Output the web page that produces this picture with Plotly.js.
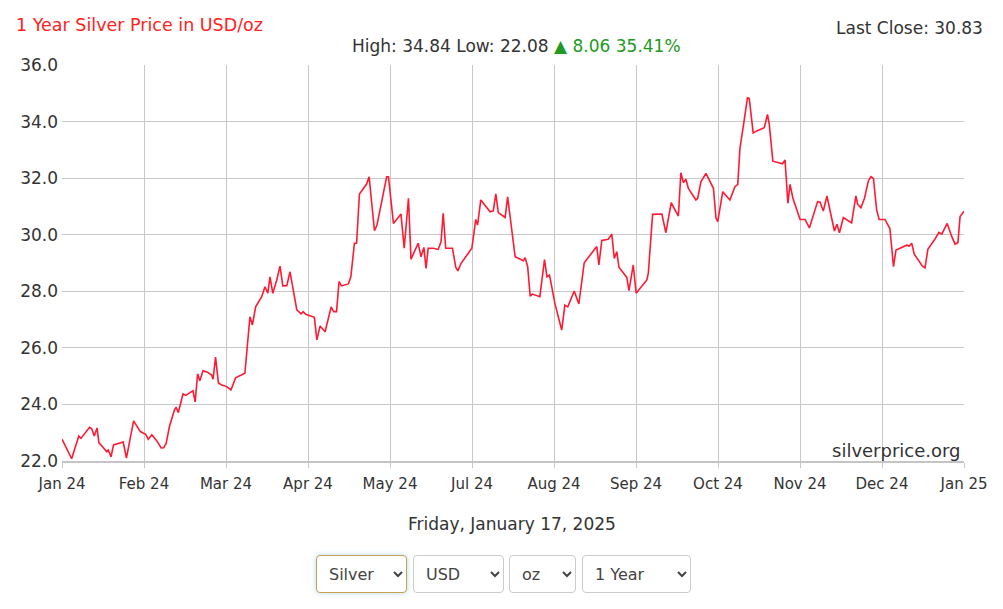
<!DOCTYPE html>
<html>
<head>
<meta charset="utf-8">
<script src="https://cdn.plot.ly/plotly-3.0.1.min.js"></script>
<style>
  html, body { margin: 0; padding: 0; background: #fff; }
  #wrap { position: relative; width: 1003px; height: 609px; }
  #chart { position: absolute; left: 0; top: 0; width: 1003px; height: 609px; }
  .sel {
    position: absolute; top: 555px; height: 38px; box-sizing: border-box;
    font-family: "DejaVu Sans", sans-serif; font-size: 16px; color: #444;
    background: #fff; border: 1px solid #ccc; border-radius: 4px; padding: 0 8px;
  }
  .sel.focus { border-color: #c9a24a; box-shadow: 0 0 5px rgba(102,175,233,0.5); }
</style>
</head>
<body>
<div id="wrap">
  <div id="chart"></div>
  <select class="sel focus" style="left:316px;width:91px;"><option>Silver</option></select>
  <select class="sel" style="left:413px;width:91px;"><option>USD</option></select>
  <select class="sel" style="left:509px;width:67px;"><option>oz</option></select>
  <select class="sel" style="left:582px;width:109px;"><option>1 Year</option></select>
</div>
<script>
// Trading-day index (0..252) and silver price (USD/oz)
const days = [0,2.7,3.6,4.7,5.3,6.4,7.7,8.3,9.0,9.8,10.3,11.5,12.5,12.9,13.7,14.4,16.2,17.1,18.0,19.0,
  20.0,21.9,22.7,23.4,24.1,25.1,26.5,27.7,28.4,29.1,30.0,31.4,31.9,32.5,33.8,34.6,36.2,36.6,37.2,37.9,
  38.5,39.4,40.5,41.8,42.2,42.9,43.7,44.6,46.0,47.2,48.5,51.1,52.5,53.2,54.1,55.8,56.7,57.5,58.1,58.9,
  60.0,60.9,61.7,62.8,63.7,65.6,66.8,67.4,68.1,70.5,71.2,72.1,73.5,75.2,75.9,76.7,77.4,78.1,80.0,80.7,
  81.7,82.3,83.1,85.1,85.8,87.3,88.0,89.3,90.7,91.2,92.6,94.7,95.6,96.8,97.5,99.5,100.3,101.1,101.7,102.3,
  103.7,105.1,105.9,106.5,107.2,109.1,110.0,110.6,111.5,114.5,115.6,116.1,117.0,119.6,120.5,121.2,121.9,123.8,124.5,126.6,
  128.9,129.4,130.1,130.8,131.4,133.5,134.8,135.5,136.2,137.7,138.7,139.6,140.5,141.3,143.1,144.4,145.9,147.8,149.4,150.0,
  150.8,152.6,153.6,154.3,155.0,155.6,157.8,158.4,159.6,160.4,162.0,163.4,163.8,165.0,167.6,168.7,170.2,172.2,172.9,173.6,
  174.3,175.0,177.1,177.6,178.5,179.9,182.0,182.7,183.2,184.6,186.6,188.0,188.8,189.4,190.4,191.5,192.0,193.1,194.1,196.2,
  197.1,197.6,198.6,199.7,201.3,202.0,202.8,203.4,204.2,206.2,207.6,208.8,211.1,211.8,212.7,213.7,215.8,216.5,217.2,218.3,
  220.6,221.8,222.3,223.2,224.2,225.3,226.0,226.7,227.6,228.3,229.9,231.3,232.3,233.0,234.6,236.0,236.7,237.4,238.1,240.4,
  241.1,241.9,243.9,245.0,245.8,247.3,248.6,249.5,250.3,250.9,252.0];
const prices = [22.77,22.08,22.45,22.88,22.80,22.98,23.19,23.14,22.88,23.17,22.65,22.48,22.33,22.39,22.15,22.57,22.62,22.67,22.10,22.74,
  23.42,23.04,22.98,22.94,22.77,22.93,22.71,22.46,22.47,22.62,23.21,23.80,23.90,23.71,24.37,24.32,24.45,24.48,24.09,25.08,
  24.84,25.19,25.15,25.04,24.89,25.67,24.76,24.69,24.63,24.51,24.94,25.10,27.10,26.81,27.45,27.81,28.16,27.93,28.51,27.93,
  28.40,28.89,28.19,28.20,28.69,27.34,27.20,27.28,27.19,27.08,26.28,26.77,26.57,27.45,27.28,27.28,28.34,28.19,28.26,28.51,
  29.70,29.70,31.44,31.79,32.05,30.14,30.34,31.11,32.05,32.05,30.40,30.73,29.52,31.29,29.13,29.70,29.22,29.55,28.81,29.52,
  29.52,29.48,29.75,30.76,29.52,29.52,28.85,28.72,28.99,29.52,30.54,30.34,31.23,30.81,30.84,31.44,30.78,30.61,31.34,29.22,
  29.08,29.19,28.87,27.83,27.90,27.81,29.12,28.51,28.57,27.57,27.04,26.63,27.51,27.45,28.01,27.55,29.01,29.34,29.58,28.93,
  29.80,29.84,30.02,29.16,29.40,28.85,28.49,28.02,28.93,27.93,28.19,28.40,28.63,30.72,30.73,30.07,31.13,30.66,32.19,31.84,
  31.96,31.64,31.23,31.29,31.87,32.17,31.64,30.60,30.46,31.52,31.23,31.70,31.78,33.05,33.88,34.84,34.82,33.60,33.67,33.78,
  34.25,33.90,32.60,32.56,32.51,32.64,31.11,31.78,31.29,30.54,30.54,30.24,31.17,31.15,30.84,31.37,30.13,30.37,30.07,30.61,
  30.42,31.37,31.07,30.95,31.29,31.91,32.05,31.99,30.87,30.54,30.54,30.22,28.87,29.46,29.56,29.63,29.60,29.70,29.31,28.89,
  28.83,29.48,29.85,30.08,30.02,30.40,29.93,29.67,29.72,30.64,30.83];
const tickLabels = ["Jan 24","Feb 24","Mar 24","Apr 24","May 24","Jul 24","Aug 24","Sep 24","Oct 24","Nov 24","Dec 24","Jan 25"];
const yTicks = [22,24,26,28,30,32,34,36];
const totalDays = 252;

const tickVals = tickLabels.map((_, i) => i * totalDays / (tickLabels.length - 1));
const font = "DejaVu Sans, sans-serif";

Plotly.newPlot('chart', [{
  x: days, y: prices, type: 'scatter', mode: 'lines',
  line: { color: '#ff1a33', width: 1.6 }, hoverinfo: 'skip'
}], {
  width: 1003, height: 609,
  margin: { l: 62, r: 39, t: 65, b: 148 },
  paper_bgcolor: '#fff', plot_bgcolor: '#fff',
  showlegend: false,
  font: { family: font, color: '#333' },
  xaxis: {
    range: [0, totalDays], tickvals: tickVals, ticktext: tickLabels,
    showgrid: true, gridcolor: '#c8c8c8', gridwidth: 1,
    zeroline: false, showline: true, linecolor: '#c4c4c4', linewidth: 2, mirror: false,
    ticks: 'outside', ticklen: 5, tickcolor: '#c8c8c8', tickwidth: 1,
    ticklabelstandoff: 3,
    tickfont: { size: 15, color: '#333', family: font }, fixedrange: true
  },
  yaxis: {
    range: [22, 36], tickvals: yTicks, tickformat: '.1f',
    showgrid: true, gridcolor: '#c8c8c8', gridwidth: 1,
    zeroline: false, showline: false,
    ticks: '', ticklabelstandoff: 3,
    tickfont: { size: 17, color: '#333', family: font }, fixedrange: true
  },
  annotations: [
    { text: '1 Year Silver Price in USD/oz', xref: 'paper', yref: 'paper', x: -0.0532, y: 1.101,
      xanchor: 'left', yanchor: 'middle', showarrow: false, font: { size: 17.5, color: '#ff2222', family: font } },
    { text: 'Last Close: 30.83', xref: 'paper', yref: 'paper', x: 1.0233, y: 1.0934,
      xanchor: 'right', yanchor: 'middle', showarrow: false, font: { size: 17, color: '#333', family: font } },
    { text: 'High: 34.84 Low: 22.08 <span style="color:#229922">▲ 8.06 35.41%</span>', xref: 'paper', yref: 'paper',
      x: 0.5044, y: 1.048, xanchor: 'center', yanchor: 'middle', showarrow: false, font: { size: 17, color: '#333', family: font } },
    { text: 'silverprice.org', xref: 'paper', yref: 'paper', x: 0.999, y: 0.0253,
      xanchor: 'right', yanchor: 'middle', showarrow: false, font: { size: 18, color: '#333', family: font } },
    { text: 'Friday, January 17, 2025', xref: 'paper', yref: 'paper', x: 0.4989, y: -0.159,
      xanchor: 'center', yanchor: 'middle', showarrow: false, font: { size: 17, color: '#333', family: font } }
  ]
}, { staticPlot: true, displayModeBar: false });
</script>
</body>
</html>
